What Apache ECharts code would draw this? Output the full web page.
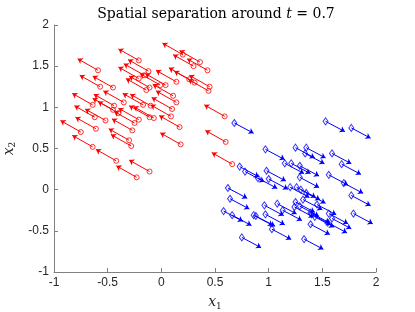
<!DOCTYPE html>
<html>
<head>
<meta charset="utf-8">
<script src="https://cdn.jsdelivr.net/npm/echarts@6/dist/echarts.min.js"></script>
<style>html,body{margin:0;padding:0;background:#fff;}#c{width:415px;height:312px;}</style>
</head>
<body>
<div id="c"></div>
<script>
// Red class (circles), tails of arrows
const redX = [-0.59,-0.21,-0.12,0.20,0.30,0.36,0.43,-0.21,-0.16,-0.57,-0.45,-0.14,-0.11,-0.01,0.04,0.14,0.26,0.31,0.45,0.44,0.11,-0.64,-0.44,-0.35,-0.17,-0.10,0.14,0.10,-0.45,-0.62,-0.52,-0.40,-0.25,-0.21,-0.11,-0.07,0.09,0.59,-0.75,-0.61,-0.27,0.17,-0.30,-0.28,-0.64,0.18,0.60,-0.42,-0.11,-0.23,0.66];
const redY = [1.45,1.57,1.44,1.64,1.50,1.55,1.45,1.35,1.39,1.25,1.24,1.21,1.24,1.27,1.27,1.31,1.34,1.30,1.25,1.20,1.14,1.03,1.02,1.06,1.03,1.02,1.06,0.98,0.97,0.88,0.84,0.93,0.81,0.85,0.88,0.87,0.89,0.89,0.70,0.74,0.72,0.76,0.60,0.53,0.52,0.55,0.58,0.35,0.22,0.15,0.31];
// Blue class (diamonds)
const blueX = [0.68,1.53,1.77,0.97,1.25,1.35,1.34,1.59,0.73,0.78,1.15,1.21,1.29,1.68,0.98,1.29,1.56,1.70,1.00,0.90,1.20,1.26,1.30,1.35,0.62,0.64,1.77,1.08,0.96,1.25,1.24,1.29,1.45,1.39,1.40,1.13,0.58,0.66,0.86,0.88,0.97,1.56,1.59,1.55,1.79,1.39,1.03,0.75,1.33,1.32,1.43];
const blueY = [0.81,0.83,0.75,0.49,0.51,0.51,0.44,0.44,0.28,0.22,0.32,0.32,0.29,0.31,0.23,0.15,0.18,0.08,0.13,0.14,0.03,0.03,0.00,-0.04,0.02,-0.11,-0.07,-0.17,-0.19,-0.15,-0.21,-0.20,-0.18,-0.28,-0.30,-0.25,-0.26,-0.31,-0.31,-0.32,-0.30,-0.29,-0.35,-0.40,-0.29,-0.42,-0.48,-0.58,-0.60,-0.12,-0.33];
// Arrow vectors
const redU = -0.19, redV = 0.14;
const blueU = 0.18, blueV = -0.125;

const chart = echarts.init(document.getElementById('c'), null, {renderer:'canvas'});
const axisCommon = {
  type:'value', min:-1, max:2, interval:0.5,
  axisLine:{show:true, onZero:false, lineStyle:{color:'#808080', width:1}},
  axisTick:{show:true, inside:true, length:4, lineStyle:{color:'#808080'}},
  splitLine:{show:false},
  axisLabel:{color:'#262626', fontSize:12, fontFamily:'Liberation Sans, Arial, sans-serif', margin:5}
};
const serif = 'DejaVu Serif, Liberation Serif, serif';
const nameRich = {
  i:{fontFamily:serif, fontSize:14, fontStyle:'italic', color:'#262626'},
  s:{fontFamily:serif, fontSize:9, color:'#262626', verticalAlign:'bottom', padding:[8,0,0,0]}
};
chart.setOption({
  animation:false,
  backgroundColor:'#fff',
  title:{
    text:'{r|Spatial separation around }{i|t}{r| = 0.7}',
    left:211, top:2, textAlign:'center',
    textStyle:{fontWeight:'normal', rich:{
      r:{fontFamily:serif, fontSize:14, fontWeight:'normal', color:'#000'},
      i:{fontFamily:serif, fontSize:14, fontWeight:'normal', fontStyle:'italic', color:'#000'}
    }}
  },
  grid:{left:54, right:39, top:25, bottom:40, containLabel:false, outerBoundsMode:'none'},
  xAxis:Object.assign({}, axisCommon, {
    name:'{i|x}{s|1}', nameLocation:'middle', nameGap:22,
    nameTextStyle:{rich:nameRich}
  }),
  yAxis:Object.assign({}, axisCommon, {
    name:'{i|x}{s|2}', nameLocation:'middle', nameGap:34, nameRotate:90,
    nameTextStyle:{rich:nameRich}
  }),
  series:[
    {
      type:'lines', coordinateSystem:'cartesian2d', silent:true,
      symbol:['none','arrow'], symbolSize:5,
      lineStyle:{color:'#ff0000', width:1, opacity:1, curveness:0},
      data:redX.map((x,i)=>({coords:[[x,redY[i]],[x+redU,redY[i]+redV]]}))
    },
    {
      type:'scatter', silent:true, symbol:'circle', symbolSize:5,
      itemStyle:{color:'rgba(255,255,255,0)', borderColor:'#ff0000', borderWidth:1},
      data:redX.map((x,i)=>[x,redY[i]])
    },
    {
      type:'lines', coordinateSystem:'cartesian2d', silent:true,
      symbol:['none','arrow'], symbolSize:5,
      lineStyle:{color:'#0000ff', width:1, opacity:1, curveness:0},
      data:blueX.map((x,i)=>({coords:[[x,blueY[i]],[x+blueU,blueY[i]+blueV]]}))
    },
    {
      type:'scatter', silent:true, symbol:'diamond', symbolSize:[5,7],
      itemStyle:{color:'rgba(255,255,255,0)', borderColor:'#0000ff', borderWidth:1},
      data:blueX.map((x,i)=>[x,blueY[i]])
    }
  ]
});
</script>
</body>
</html>
